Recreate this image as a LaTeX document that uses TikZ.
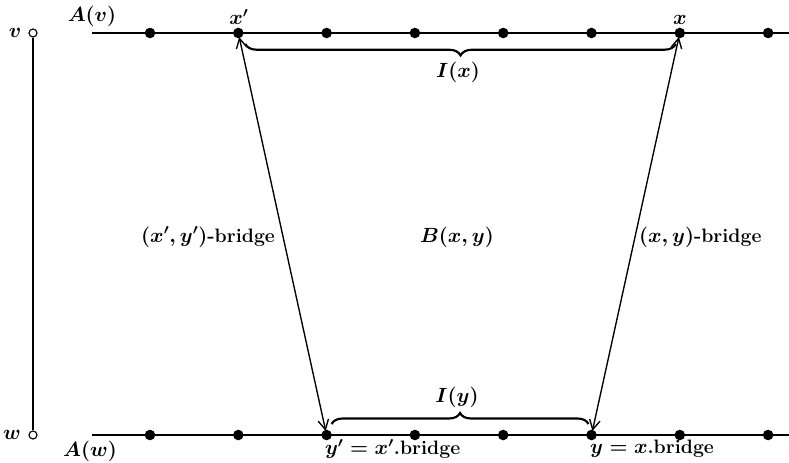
\documentclass[tikz,border=0pt]{standalone}
\usetikzlibrary{arrows.meta, decorations.pathreplacing, positioning}

\begin{document}
\begin{tikzpicture}[
  x=0.7pt, y=-0.7pt,
  font=\fontsize{13.6}{16}\selectfont\bfseries\boldmath,
  % filled vertex on a path
  dot/.style={circle, fill=black, inner sep=0pt, minimum size=7.4pt},
  % hollow end vertex
  ring/.style={circle, draw=black, fill=white, thick, inner sep=0pt, minimum size=5.6pt},
  % lines
  pathline/.style={line width=0.95pt},
  bridgearr/.style={{Straight Barb[length=2.4mm,width=2.6mm]}-{Straight Barb[length=2.4mm,width=2.6mm]}, line width=0.95pt, shorten <=-1pt, shorten >=-1pt},
  brc/.style={decorate, decoration={brace, amplitude=#1}, line width=1.5pt},
]
\useasboundingbox (0,0) rectangle (789,462);

% ── edge v--w ─────────────────────────────────
\node[ring] (v) at (33,33) {};
\node[ring] (w) at (33,435) {};
\draw[pathline] (v) -- (w);
\node (vlab) at (15,33) {$v$};
\node (wlab) at (12,435) {$w$};

% ── paths A(v) and A(w) ───────────────────────
\coordinate (avl) at (92,33);  \coordinate (avr) at (789,33);
\coordinate (awl) at (92,435); \coordinate (awr) at (789,435);
\draw[pathline] (avl) -- (avr);
\draw[pathline] (awl) -- (awr);
\foreach \i in {1,...,8} {
  \node[dot] (a\i) at ({150+88.3*(\i-1)},33) {};
  \node[dot] (b\i) at ({150+88.3*(\i-1)},435) {};
}
\node (Av) at (92,16) {$A(v)$};
\node (Aw) at (90,451) {$A(w)$};

% ── vertex labels ─────────────────────────────
\node (xplab) at (239,17) {$x'$};
\node (xlab) at (680,20) {$x$};
\node[anchor=west] (yplab) at (320,449) {$y'=x'$.bridge};
\node[anchor=west] (ylab) at (585,449) {$y=x$.bridge};

% ── bridges ───────────────────────────────────
\draw[bridgearr] (a2) -- (b3);
\draw[bridgearr] (a7) -- (b6);
\node[anchor=east] (lbr) at (280,237) {$(x',y')$-bridge};
\node (Bxy) at (457,237) {$B(x,y)$};
\node[anchor=west] (rbr) at (634,237) {$(x,y)$-bridge};

% ── intervals ─────────────────────────────────
\draw[brc=8pt] ([shift={(-4,11)}]a7.center) -- ([shift={(7,11)}]a2.center);
\node (Ix) at (458,72) {$I(x)$};
\draw[brc=7.7pt] ([shift={(5,-11)}]b3.center) -- ([shift={(-3,-11)}]b6.center);
\node (Iy) at (457,397) {$I(y)$};

\end{tikzpicture}
\end{document}
